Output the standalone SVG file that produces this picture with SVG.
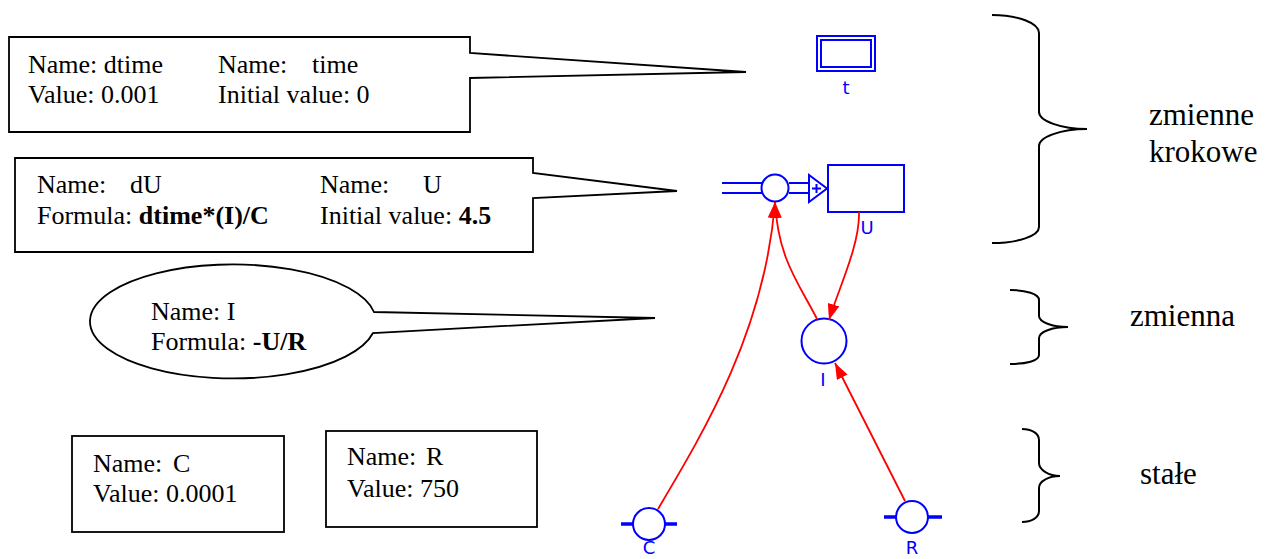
<svg xmlns="http://www.w3.org/2000/svg" width="1267" height="559" viewBox="0 0 1267 559">
<defs>
<style>
.note{fill:#fff;stroke:#000;stroke-width:1.8;stroke-linejoin:miter}
.tx{font-family:"Liberation Serif","Times New Roman",serif;font-size:26px;fill:#000}
.b{font-weight:bold}
.lab{font-family:"Liberation Serif","Times New Roman",serif;font-size:31px;fill:#000}
.brace{fill:none;stroke:#000;stroke-width:2}
.bl{fill:none;stroke:#0000ff;stroke-width:2}
.blf{fill:#fff;stroke:#0000ff;stroke-width:2}
.bar{stroke:#0000ff;stroke-width:3.5}
.nm{font-family:"DejaVu Sans",Verdana,sans-serif;font-size:18px;fill:#0000ff;text-anchor:middle}
.link{fill:none;stroke:#ff0000;stroke-width:1.8}
</style>
<marker id="ah" markerUnits="userSpaceOnUse" markerWidth="16" markerHeight="12" viewBox="0 0 16 12" refX="16" refY="6" orient="auto">
<path d="M0,0 L16,6 L0,12 Z" fill="#ff0000"/>
</marker>
</defs>
<rect width="1267" height="559" fill="#fff"/>

<g id="note-time">
<path class="note" d="M9,37 H470 V53 L746,72 L470,78 V132 H9 Z"/>
<text class="tx" x="28" y="73">Name: dtime</text>
<text class="tx" x="28" y="103">Value: 0.001</text>
<text class="tx" x="218" y="73">Name:<tspan x="312">time</tspan></text>
<text class="tx" x="218" y="103">Initial value: 0</text>
</g>

<g id="note-U">
<path class="note" d="M15,158 H533 V173 L677,191 L533,198 V252 H15 Z"/>
<text class="tx" x="37" y="193">Name:<tspan x="130">dU</tspan></text>
<text class="tx" x="37" y="224">Formula: <tspan class="b">dtime*(I)/C</tspan></text>
<text class="tx" x="320" y="193">Name:<tspan x="423">U</tspan></text>
<text class="tx" x="320" y="224">Initial value: <tspan class="b">4.5</tspan></text>
</g>

<g id="note-I">
<path class="note" d="M374,312 L655,318 L373,333 A143,57 0 1 1 374,312 Z"/>
<text class="tx" x="151" y="320">Name: I</text>
<text class="tx" x="151" y="350">Formula: <tspan class="b">-U/R</tspan></text>
</g>

<g id="note-C">
<rect class="note" x="72" y="436" width="212" height="96"/>
<text class="tx" x="93" y="472">Name:<tspan x="173">C</tspan></text>
<text class="tx" x="93" y="502">Value: 0.0001</text>
</g>

<g id="note-R">
<rect class="note" x="326" y="431" width="211" height="96"/>
<text class="tx" x="347" y="465">Name:<tspan x="426">R</tspan></text>
<text class="tx" x="347" y="497">Value: 750</text>
</g>

<g id="brace-krokowe">
<path class="brace" d="M992,15 C1018,15 1039,23 1039,33 V112 C1039,121 1061,129 1087,129 C1061,129 1039,137 1039,146 V227 C1039,236 1018,243 992,243"/>
<text class="lab" x="1149" y="125">zmienne</text>
<text class="lab" x="1149" y="162">krokowe</text>
</g>

<g id="brace-zmienna">
<path class="brace" d="M1010,290 C1026,290 1039,294 1039,300 V316 C1039,322 1052,327 1068,327 C1052,327 1039,332 1039,338 V355 C1039,361 1026,364 1010,364"/>
<text class="lab" x="1130" y="326">zmienna</text>
</g>

<g id="brace-stale">
<path class="brace" d="M1022,429 C1031,429 1039,433 1039,440 V463 C1039,470 1049,476 1060,476 C1049,476 1039,481 1039,488 V511 C1039,518 1031,522 1022,522"/>
<text class="lab" x="1140" y="484">stałe</text>
</g>

<g id="node-t">
<rect class="bl" x="817" y="36" width="58" height="35"/>
<rect class="bl" x="821" y="40" width="50" height="27"/>
<text class="nm" x="846" y="94">t</text>
</g>

<g id="node-U">
<rect class="blf" x="828" y="165" width="76" height="47"/>
<text class="nm" x="867" y="234">U</text>
</g>

<g id="flow-dU">
<path class="bl" d="M722,183 H762 M722,193 H762 M789,183 H809 M789,193 H809"/>
<circle class="blf" cx="775" cy="188" r="13.5"/>
<path class="blf" d="M809,175 L809,202 L827,188.5 Z"/>
<path class="bl" d="M812,188.5 H821 M816.5,184 V193" stroke-width="1.8"/>
</g>

<g id="node-I">
<circle class="blf" cx="824" cy="341" r="22.5"/>
<text class="nm" x="823" y="386">I</text>
</g>

<g id="node-C">
<path class="bar" d="M621,524 H633 M665,524 H677"/>
<circle class="blf" cx="649" cy="524" r="16"/>
<text class="nm" x="649" y="554">C</text>
</g>

<g id="node-R">
<path class="bar" d="M884,517 H897 M928,517 H942"/>
<circle class="blf" cx="912" cy="517" r="16"/>
<text class="nm" x="912" y="554">R</text>
</g>

<g id="connectors">
<path class="link" d="M658,509 C705,430 765,330 775,202" marker-end="url(#ah)"/>
<path class="link" d="M817,319 C800,285 778,260 775,202" marker-end="url(#ah)"/>
<path class="link" d="M859,212 C860,245 838,290 829,320" marker-end="url(#ah)"/>
<path class="link" d="M905,501 L835,363" marker-end="url(#ah)"/>
</g>
</svg>
